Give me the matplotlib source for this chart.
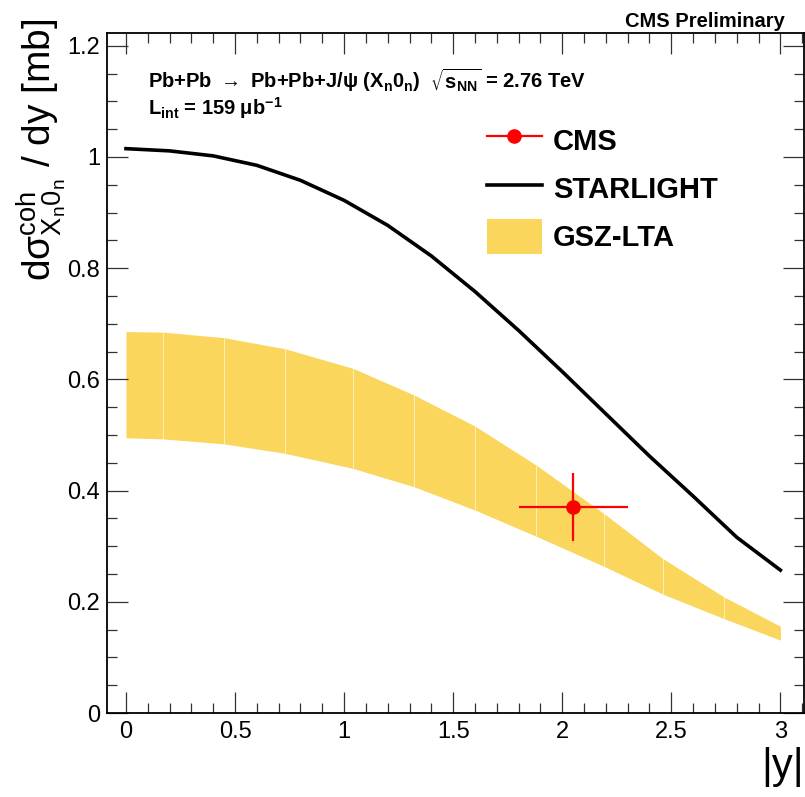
import numpy as np
import matplotlib
matplotlib.use('Agg')
import matplotlib.pyplot as plt
from matplotlib.lines import Line2D
from matplotlib.patches import Patch
from matplotlib.ticker import MultipleLocator

# STARLIGHT prediction
sl_y = [0.0, 0.2, 0.4, 0.6, 0.8, 1.0, 1.2, 1.4, 1.6, 1.8, 2.0, 2.2, 2.4, 2.6, 2.8, 3.0]
sl_val = [1.015, 1.011, 1.002, 0.985, 0.958, 0.922, 0.877, 0.822, 0.758, 0.688,
          0.614, 0.538, 0.462, 0.390, 0.316, 0.257]

# GSZ-LTA band
gsz_y = [0.0, 0.17, 0.45, 0.73, 1.04, 1.32, 1.60, 1.88, 2.19, 2.46, 2.74, 3.0]
gsz_hi = [0.686, 0.685, 0.675, 0.655, 0.620, 0.572, 0.516, 0.446, 0.359, 0.278, 0.209, 0.156]
gsz_lo = [0.495, 0.493, 0.484, 0.467, 0.440, 0.407, 0.365, 0.318, 0.264, 0.214, 0.170, 0.131]

# CMS measurement
cms_y = [2.05]
cms_yerr = [0.25]
cms_val = [0.37]
cms_err = [0.061]

plt.rcParams['font.family'] = ['Liberation Sans', 'DejaVu Sans']
plt.rcParams['mathtext.fontset'] = 'dejavusans'
plt.rcParams['mathtext.default'] = 'regular'

fig = plt.figure(figsize=(8.05, 7.97), dpi=100)
ax = fig.add_axes([107/805, 1-713/797, 696.5/805, 680/797])

gold = '#FAD65C'
ax.fill_between(gsz_y, gsz_lo, gsz_hi, color=gold, lw=0)
ax.vlines(gsz_y[1:-1], gsz_lo[1:-1], gsz_hi[1:-1], colors='white', lw=0.6, alpha=0.7)

ax.plot(sl_y, sl_val, color='black', lw=2.6)

ax.errorbar(cms_y, cms_val, xerr=cms_yerr, yerr=cms_err, fmt='o', color='red',
            ms=9.5, elinewidth=1.6, capsize=0, zorder=5)

ax.set_xlim(-0.087, 3.106)
ax.set_ylim(0, 1.223)
ax.xaxis.set_major_locator(MultipleLocator(0.5))
ax.xaxis.set_minor_locator(MultipleLocator(0.1))
ax.yaxis.set_major_locator(MultipleLocator(0.2))
ax.yaxis.set_minor_locator(MultipleLocator(0.05))
ax.xaxis.set_major_formatter(lambda v, p: '%g' % round(v, 2))
ax.yaxis.set_major_formatter(lambda v, p: '%g' % round(v, 2))

ax.tick_params(which='both', direction='in', top=True, right=True, color='#333333', width=0.9)
ax.tick_params(which='major', length=15, labelsize=17)
ax.tick_params(which='minor', length=7.5)
ax.tick_params(axis='x', pad=6)
ax.tick_params(axis='y', pad=5)
for s in ax.spines.values():
    s.set_linewidth(1.3)

fig.text(42/805, 1-18/797, r'd$σ^{coh}_{X_{n}0_{n}}$ / dy [mb]', rotation=90,
         ha='center', va='top', fontsize=28)
fig.text(804/805, 1-767/797, '|y|', ha='right', va='center', fontsize=30)
fig.text(785/805, 1-27/797, 'CMS Preliminary', ha='right', va='baseline',
         fontsize=14.5, fontweight='bold')

ax.text(0.0588, (713-88)/680,
        r'Pb+Pb $\rightarrow$ Pb+Pb+J/ψ (X$_{n}$0$_{n}$)  $\sqrt{s_{NN}}$ = 2.76 TeV',
        transform=ax.transAxes, fontsize=14.5, fontweight='bold', va='baseline')
ax.text(0.0588, (713-115)/680, r'L$_{int}$ = 159 μb$^{-1}$',
        transform=ax.transAxes, fontsize=14.5, fontweight='bold', va='baseline')

handles = [Line2D([], [], color='red', marker='o', ms=9.5, lw=1.6),
           Line2D([], [], color='black', lw=2.6),
           Patch(facecolor=gold, edgecolor='none')]
leg = ax.legend(handles, ['CMS', 'STARLIGHT', 'GSZ-LTA'], loc='upper left',
                bbox_to_anchor=((487-107)/696.5, (713-123)/680), frameon=False,
                borderpad=0, borderaxespad=0, handlelength=1.88, handleheight=1.45,
                handletextpad=0.38, labelspacing=0.46,
                prop={'size': 21, 'weight': 'bold'})

fig.savefig('out.png', dpi=100)
